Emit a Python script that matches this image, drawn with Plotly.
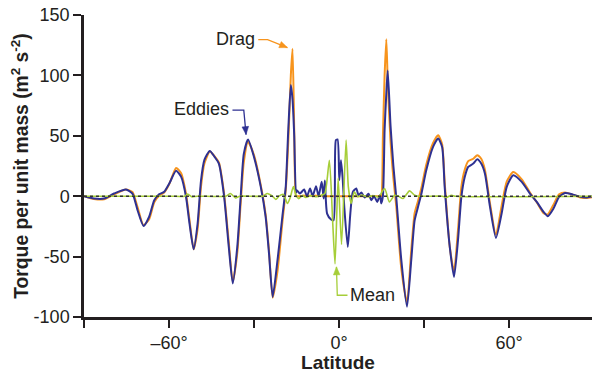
import math
import plotly.graph_objects as go

# ---------------- data ----------------
lat = [-90, -86.5, -82.9, -79.4, -75.2, -72.9, -71.1, -69.0, -67.0, -65.2, -63.4, -61.7,
       -59.9, -57.5, -55.7, -54.0, -52.8, -51.3, -49.9, -48.7, -47.5, -45.6, -43.9, -42.4,
       -40.6, -38.9, -37.5, -35.9, -34.7, -33.6, -32.1, -30.0, -27.6, -25.9, -24.7, -23.4,
       -21.7, -20.0, -18.8, -17.9, -17.0, -16.4, -15.8, -15.2, -14.9, -13.8, -12.3, -11.3,
       -10.2, -9.3, -8.1, -7.2, -6.1, -5.4, -5.0, -4.2, -2.8, -1.9, -1.1, -0.5,
       0.1, 0.7, 1.3, 1.9, 3.1, 4.0, 4.9, 6.1, 6.9, 7.9, 9.1, 10.4,
       11.4, 12.4, 13.5, 14.5, 14.9, 15.5, 16.1, 16.7, 17.2, 18.2, 19.2, 20.2,
       22.0, 24.0, 25.5, 26.7, 27.9, 29.1, 30.8, 33.2, 35.0, 36.4, 37.3, 39.1,
       40.6, 42.0, 43.2, 44.4, 45.6, 47.4, 48.8, 50.2, 51.5, 53.3, 55.4, 57.4,
       59.2, 61.5, 64.5, 67.4, 69.8, 72.2, 73.7, 75.7, 77.7, 79.8, 82.2, 85.2,
       87.5, 90]

eddies = [0, -1.9, -1.9, 2.2, 5.5, 2.2, -11.6, -24.6, -17, -3.3, 1.7, 3.6,
          10.5, 21, 16, -0.5, -22, -44, -22.6, 13, 30, 37.5, 32.5, 27,
          0.8, -42, -72.3, -42, -0.5, 35, 47, 32.5, 7.7, -17, -47.5, -83.4,
          -53, -17, 7.7, 55, 92, 80, 50, 3, 5, 2.2, 5.5, 0,
          6.4, 0, 8.3, 0, 11.9, -2, 13, -14.4, -19.3, -19.9, 46.4, 47,
          13.2, 29.8, 14.6, -10, -42, -14.4, 3.6, 6.4, 0.8, 3, -1, 2,
          -3.3, 0, -4.7, 1, -6, 0, 55, 85, 104, 58, 25, -0.5,
          -53, -91.6, -53, -20, -8.8, 2.2, 21.5, 40.8, 47.8, 40.8, 7.7, -42,
          -66.8, -36.4, -0.5, 16, 24.3, 27, 30.5, 27, 18.8, -8.8, -34.5, -14.4,
          7.7, 17.4, 11.9, 2.2, -4.7, -13, -16.6, -10.2, -0.5, 2.7, 1.7, -0.5,
          -1, 0]

drag = [0, -2.3, -2.5, 1.5, 5.5, 3.5, -9, -24, -19, -5, 0.5, 3,
        10, 23.4, 19, 2, -19, -44, -27, 8, 27, 37, 33, 28,
        3, -38, -71, -47, -6, 28, 45, 34, 9, -15, -45, -84,
        -62, -22, 5, 45, 100, 122, 55, 0, 0, 0, 0.5, 0,
        0.5, 0, 0.5, 0, 0.5, 0, 0, 0, 0, 0, 0, 0,
        0, 0, 0, 0, 0, 0, 0, 0, 0, 0, 0, 0,
        0, 0, 0, 0, 0, 50, 100, 130, 95, 45, 15, -8,
        -60, -88, -45, -14, -4, 7, 26, 44, 50.5, 43, 12, -42,
        -62, -28, 8, 22, 29, 31, 34, 31, 22, -6, -32, -8,
        12, 20, 14, 3, -5, -14, -15, -7, 1.5, 3, 1.5, -1,
        -1.5, -0.5]

lat_mean = [-90, -60, -54.5, -53.4, -52, -50, -40, -38.3, -36.5, -35, -27, -25.3,
            -23.5, -22.3, -21.2, -19.6, -18.2, -17.2, -16.1, -15.2, -14.2, -13, -11.7, -10,
            -8, -6.5, -5.0, -3.4, -2.2, -1.4, -0.3, 0.9, 2.5, 3.3, 4.3, 5.4,
            6.6, 8, 10, 12, 14, 16.1, 17.8, 19.6, 21, 22.6, 24.9, 26.7,
            28, 36.5, 37.9, 39.7, 41, 90]
mean = [0, 0, 0, 1.7, -0.5, 0, 0, 2.2, -1.4, 0, 0, 2.2,
        0, -2.7, 0, 1.5, -6, -1, 8, 1, -2, 0.5, -1, 0.5,
        -0.5, 0.5, 2.2, 29.8, -22.6, -56, 15, -40, 46.4, 7.7, -6, 3.6,
        -0.5, 1, -0.5, 0.5, -0.5, 6.4, -4.7, 0.8, 0, -1.9, 4.4, 0.8,
        0, 0, -1, 0.8, 0, 0]

x_tickvals = [-60, 0, 60]
x_ticktext = ["\u201360\u00b0", "0\u00b0", "60\u00b0"]
x_minor_ticks = [-90, -30, 30]
y_tickvals = [-100, -50, 0, 50, 100, 150]
y_ticktext = ["-100", "-50", "0", "50", "100", "150"]

C_DRAG = "#F7941D"
C_EDDY = "#2E3192"
C_MEAN = "#A6CE39"
C_AX = "#231F20"
FONT = "Liberation Sans, Arial, sans-serif"

X_RANGE = [-90, 89.3]
Y_RANGE = [-100, 150]
W, H = 592, 373
ML, MR, MT, MB = 84, 0, 15, 56
PX_PER_X = (W - ML - MR) / (X_RANGE[1] - X_RANGE[0])
PX_PER_Y = (H - MT - MB) / (Y_RANGE[1] - Y_RANGE[0])

fig = go.Figure()
fig.add_trace(go.Scatter(x=lat, y=drag, mode="lines", name="Drag",
                         line=dict(color=C_DRAG, width=2, shape="spline", smoothing=0.6)))
fig.add_trace(go.Scatter(x=lat, y=eddies, mode="lines", name="Eddies",
                         line=dict(color=C_EDDY, width=2, shape="spline", smoothing=0.6)))
fig.add_trace(go.Scatter(x=lat_mean, y=mean, mode="lines", name="Mean",
                         line=dict(color=C_MEAN, width=1.6, shape="spline", smoothing=0.6)))

# dotted zero reference line
fig.add_shape(type="line", xref="paper", x0=0, x1=1, yref="y", y0=0, y1=0,
              line=dict(color="#333333", width=1.5, dash="dot"), layer="above")

# labels with bent leader arrows: (text, text x, text y, anchor, start, bend, tip, colour)
labels = [
    ("Drag", -29.0, 130.5, "right", (-28.5, 129.6), (-25.2, 129.6), (-18.2, 123.0), C_DRAG),
    ("Eddies", -38.1, 72.0, "right", (-37.6, 71.2), (-33.6, 71.2), (-32.8, 51.0), C_EDDY),
    ("Mean", 3.2, -82.0, "left", (3.0, -82.0), (-0.6, -82.0), (-0.9, -58.5), C_MEAN),
]
for text, tx, ty, anc, p0, p1, p2, col in labels:
    fig.add_annotation(x=tx, y=ty, text=text, showarrow=False,
                       xanchor=anc, yanchor="middle",
                       font=dict(family=FONT, size=18, color=C_AX))
    fig.add_shape(type="path",
                  path=f"M {p0[0]},{p0[1]} L {p1[0]},{p1[1]} L {p2[0]},{p2[1]}",
                  line=dict(color=col, width=1.3))
    # arrowhead (pixel-sized triangle anchored at the tip)
    dx = (p2[0] - p1[0]) * PX_PER_X
    dy = (p2[1] - p1[1]) * PX_PER_Y
    L = math.hypot(dx, dy)
    ux, uy = dx / L, dy / L
    nx, ny = -uy, ux
    hl, hw = 8.0, 3.3
    bx, by = -hl * ux, -hl * uy
    pa = (bx + hw * nx, by + hw * ny)
    pb = (bx - hw * nx, by - hw * ny)
    fig.add_shape(type="path", xsizemode="pixel", ysizemode="pixel",
                  xanchor=p2[0], yanchor=p2[1],
                  path=f"M 0,0 L {pa[0]:.2f},{pa[1]:.2f} L {pb[0]:.2f},{pb[1]:.2f} Z",
                  fillcolor=col, line=dict(color=col, width=0.5))

fig.update_layout(
    width=W, height=H,
    margin=dict(l=ML, r=MR, t=MT, b=MB),
    paper_bgcolor="white", plot_bgcolor="white",
    showlegend=False,
    font=dict(family=FONT, color=C_AX),
)
fig.update_xaxes(
    range=X_RANGE, tickmode="array", tickvals=x_tickvals, ticktext=x_ticktext,
    showgrid=False, zeroline=False, showline=True, linecolor=C_AX, linewidth=2.5,
    ticks="outside", ticklen=8, tickwidth=2, tickcolor=C_AX,
    minor=dict(tickmode="array", tickvals=x_minor_ticks, ticks="outside", ticklen=8,
               tickwidth=2, tickcolor=C_AX, showgrid=False),
    tickfont=dict(family=FONT, size=18, color=C_AX),
    title=dict(text="<b>Latitude</b>", font=dict(family=FONT, size=19, color=C_AX), standoff=4),
)
fig.update_yaxes(
    range=Y_RANGE, tickmode="array", tickvals=y_tickvals, ticktext=y_ticktext,
    showgrid=False, zeroline=False, showline=True, linecolor=C_AX, linewidth=2.5,
    ticks="outside", ticklen=8, tickwidth=2, tickcolor=C_AX,
    tickfont=dict(family=FONT, size=18, color=C_AX),
    title=dict(text="<b>Torque per unit mass (m<sup>2</sup> s<sup>-2</sup>)</b>",
               font=dict(family=FONT, size=19.3, color=C_AX), standoff=0),
)

fig.write_html("out.html")
